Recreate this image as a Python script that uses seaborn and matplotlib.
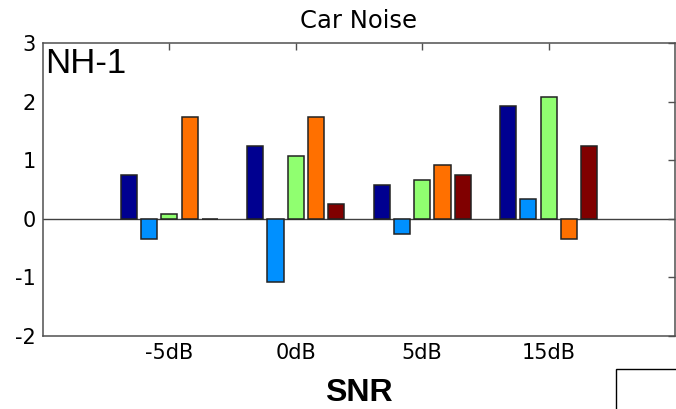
import matplotlib
matplotlib.use("Agg")
import matplotlib.pyplot as plt
import seaborn as sns
import pandas as pd
from matplotlib.patches import Rectangle

categories = ["-5dB", "0dB", "5dB", "15dB"]
series_names = ["S1", "S2", "S3", "S4", "S5"]
s1 = [0.75, 1.25, 0.58, 1.92]
s2 = [-0.35, -1.08, -0.26, 0.33]
s3 = [0.08, 1.08, 0.67, 2.08]
s4 = [1.74, 1.74, 0.92, -0.35]
s5 = [0.0, 0.25, 0.75, 1.25]
colors = ["#000090", "#0090FF", "#90FF70", "#FF7000", "#800000"]

rows = []
for name, vals in zip(series_names, [s1, s2, s3, s4, s5]):
    for c, v in zip(categories, vals):
        rows.append({"SNR": c, "series": name, "value": v})
df = pd.DataFrame(rows)

sns.set_style("white")
plt.rcParams["font.family"] = ["DejaVu Sans"]

fig = plt.figure(figsize=(6.76, 4.09), dpi=100)
ax = fig.add_axes([43/676, 73/409, 632/676, 293/409])

sns.barplot(data=df, x="SNR", y="value", hue="series", order=categories,
            hue_order=series_names, palette=colors, gap=0.2, width=0.8,
            edgecolor="#222222", linewidth=1.1, saturation=1, legend=False, ax=ax,
            errorbar=None)

ax.axhline(0, color="#404040", lw=1.0, zorder=0.5)
ax.set_xlim(-1, 4)
ax.set_ylim(-2, 3)
ax.set_yticks([-2, -1, 0, 1, 2, 3])
ax.set_yticklabels(["-2", "-1", "0", "1", "2", "3"])

for sp in ax.spines.values():
    sp.set_visible(True)
    sp.set_color("#505050")
    sp.set_linewidth(1.1)

ax.tick_params(axis="both", direction="in", length=5, width=1, color="#505050",
               top=True, right=True, labelsize=15, labelcolor="black")
ax.tick_params(axis="y", pad=5)
ax.tick_params(axis="x", pad=5)

ax.set_title("Car Noise", fontsize=17.5, pad=11, color="black")
ax.set_xlabel("SNR", fontsize=23, fontweight="bold", family=["Liberation Sans"],
              labelpad=11, color="black")
ax.set_ylabel("")

ax.text(0.004, 0.985, "NH-1", transform=ax.transAxes, ha="left", va="top",
        fontsize=25, family=["Liberation Sans"], color="black")

fig.add_artist(Rectangle((616/676, -0.05), 0.2, 40/409 + 0.05,
                         transform=fig.transFigure, fill=False,
                         edgecolor="black", linewidth=1.0))

fig.savefig("out.png", dpi=100)
